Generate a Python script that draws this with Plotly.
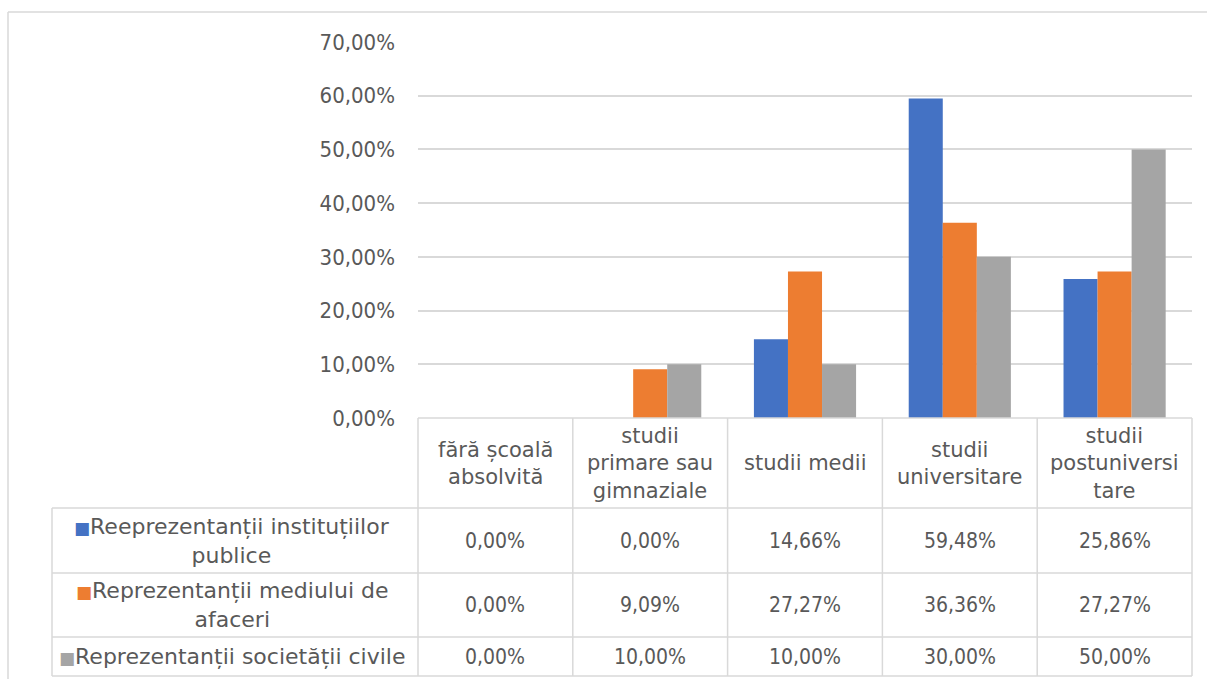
import plotly.graph_objects as go

# categories (header row of the data table)
categories = [
    "fără școală<br>absolvită",
    "studii<br>primare sau<br>gimnaziale",
    "studii medii",
    "studii<br>universitare",
    "studii<br>postuniversi<br>tare",
]
series_names = [
    "Reeprezentanții instituțiilor<br>publice",
    "Reprezentanții mediului de<br>afaceri",
    "Reprezentanții societății civile",
]
institutii = [0.0, 0.0, 0.1466, 0.5948, 0.2586]
afaceri = [0.0, 0.0909, 0.2727, 0.3636, 0.2727]
civile = [0.0, 0.10, 0.10, 0.30, 0.50]
y_ticks = [0, 0.1, 0.2, 0.3, 0.4, 0.5, 0.6, 0.7]

colors = ["#4472C4", "#ED7D31", "#A5A5A5"]
W, H = 1207, 679
txt = "#595959"
grid = "#D9D9D9"
NUM_FONT = "DejaVu Sans Condensed"
TXT_FONT = "DejaVu Sans"


def px(x):
    return x / W


def py(y):
    return 1 - y / H


series = [institutii, afaceri, civile]

fig = go.Figure()
for vals, name, c in zip(series, series_names, colors):
    fig.add_trace(go.Bar(x=categories, y=vals, name=name, marker_color=c,
                         marker_line_width=0))

# table geometry (pixels)
x0, x1 = 418, 1192
leg_x = 52
row_y = [418, 508, 573, 637, 676]
col_w = (x1 - x0) / len(categories)

shapes = []
line = dict(color=grid, width=1.5)
for y in row_y:
    shapes.append(dict(type="line", xref="paper", yref="paper",
                       x0=px(x0 if y == row_y[0] else leg_x), x1=px(x1),
                       y0=py(y), y1=py(y), line=line))
for i in range(len(categories) + 1):
    x = x0 + i * col_w
    shapes.append(dict(type="line", xref="paper", yref="paper",
                       x0=px(x), x1=px(x), y0=py(row_y[0]), y1=py(row_y[-1]), line=line))
shapes.append(dict(type="line", xref="paper", yref="paper",
                   x0=px(leg_x), x1=px(leg_x), y0=py(row_y[1]), y1=py(row_y[-1]), line=line))
# outer chart border
shapes.append(dict(type="line", xref="paper", yref="paper",
                   x0=px(8), x1=px(8), y0=py(12), y1=0, line=dict(color=grid, width=1.5)))
shapes.append(dict(type="line", xref="paper", yref="paper",
                   x0=px(8), x1=1, y0=py(12), y1=py(12), line=dict(color=grid, width=1.5)))

annotations = []
for cat in categories:
    annotations.append(dict(x=cat, xref="x", y=py((row_y[0] + row_y[1]) / 2), yref="paper",
                            text=cat, showarrow=False,
                            font=dict(family=TXT_FONT, size=21, color=txt),
                            align="center", xanchor="center", yanchor="middle"))
for r, (vals, name, c) in enumerate(zip(series, series_names, colors)):
    yc = py((row_y[r + 1] + row_y[r + 2]) / 2)
    annotations.append(dict(x=px((leg_x + x0) / 2 - 3), xref="paper", y=yc, yref="paper",
                            text=f"<span style='color:{c};font-size:17px'>■</span>{name}",
                            showarrow=False, font=dict(family=TXT_FONT, size=22, color=txt),
                            align="center", xanchor="center", yanchor="middle"))
    for cat, v in zip(categories, vals):
        annotations.append(dict(x=cat, xref="x", y=yc, yref="paper",
                                text=f"{v * 100:.2f}%".replace(".", ","),
                                showarrow=False, font=dict(family=NUM_FONT, size=21, color=txt),
                                xanchor="center", yanchor="middle"))

fig.update_layout(
    width=W, height=H, autosize=False,
    margin=dict(l=0, r=0, t=0, b=0, pad=0, autoexpand=False),
    paper_bgcolor="white", plot_bgcolor="white",
    font=dict(family=NUM_FONT, size=21, color=txt),
    separators=",.",
    barmode="group", bargap=0.34, bargroupgap=0,
    showlegend=False,
    xaxis=dict(domain=[px(x0), px(x1)], showticklabels=False, showgrid=False,
               zeroline=False, ticks="", automargin=False),
    yaxis=dict(domain=[py(418), py(42)], range=[0, 0.7], tickvals=y_ticks,
               tickformat=".2%", showgrid=True, gridcolor=grid, gridwidth=1.5,
               zeroline=False, ticklabelstandoff=22, automargin=False,
               tickfont=dict(size=22, color=txt)),
    shapes=shapes,
    annotations=annotations,
)

page_fix = (
    "document.body.style.margin='0';"
    "document.body.style.overflow='hidden';"
    "document.documentElement.style.overflow='hidden';"
    "var d=document.getElementById('{plot_id}');"
    "d.style.position='absolute';d.style.top='0';d.style.left='0';"
)
fig.write_html("out.html", config={"displayModeBar": False}, post_script=page_fix)
